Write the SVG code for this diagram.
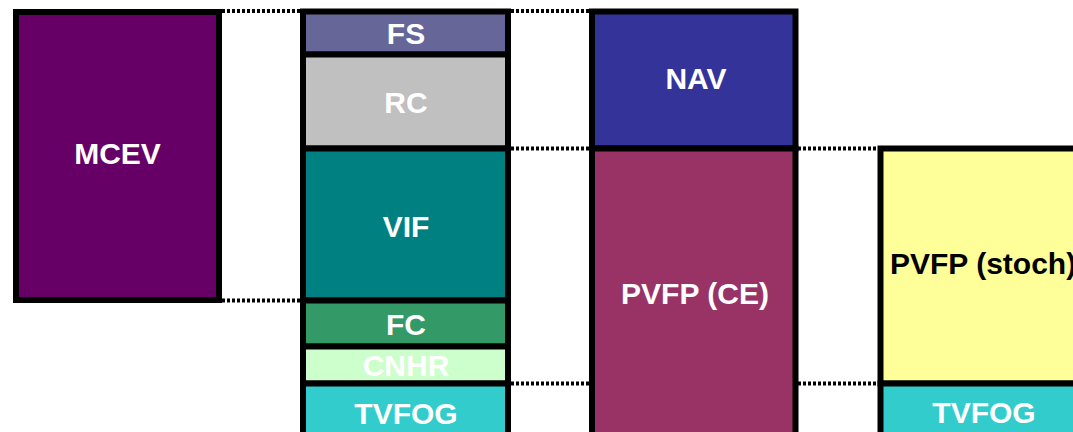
<svg xmlns="http://www.w3.org/2000/svg" width="1073" height="432" viewBox="0 0 1073 432">
<style>
.box{stroke:#000;stroke-width:6}
.lbl{font-family:"Liberation Sans",Arial,sans-serif;font-weight:bold;font-size:30px;fill:#fff;text-anchor:middle}
.dot{stroke:#000;stroke-width:4;stroke-dasharray:3 2;fill:none}
</style>
<rect width="1073" height="432" fill="#fff"/>
<g id="connectors">
<line class="dot" x1="222" y1="11" x2="300" y2="11"/>
<line class="dot" x1="222" y1="300.5" x2="300" y2="300.5"/>
<line class="dot" x1="511" y1="11" x2="589" y2="11"/>
<line class="dot" x1="511" y1="148.5" x2="589" y2="148.5"/>
<line class="dot" x1="511" y1="383.5" x2="589" y2="383.5"/>
<line class="dot" x1="798" y1="148.5" x2="877" y2="148.5"/>
<line class="dot" x1="798" y1="383.5" x2="877" y2="383.5"/>
</g>
<g id="MCEV"><rect class="box" x="16" y="12" width="203" height="288" fill="#660066"/><text class="lbl" x="117.5" y="163.5">MCEV</text></g>
<g id="FS"><rect class="box" x="303" y="11.5" width="205" height="43" fill="#666699"/><text class="lbl" x="406" y="43.5">FS</text></g>
<g id="RC"><rect class="box" x="303" y="54.5" width="205" height="94" fill="#C0C0C0"/><text class="lbl" x="406" y="112.5">RC</text></g>
<g id="VIF"><rect class="box" x="303" y="148.5" width="205" height="152" fill="#008080"/><text class="lbl" x="406" y="236.5">VIF</text></g>
<g id="FC"><rect class="box" x="303" y="300.5" width="205" height="46" fill="#339966"/><text class="lbl" x="406" y="335">FC</text></g>
<g id="CNHR"><rect class="box" x="303" y="346.5" width="205" height="37" fill="#CCFFCC"/><text class="lbl" x="406" y="376">CNHR</text></g>
<g id="TVFOG1"><rect class="box" x="303" y="383.5" width="205" height="60" fill="#33CCCC"/><text class="lbl" x="406" y="424">TVFOG</text></g>
<g id="NAV"><rect class="box" x="592" y="11.5" width="203.5" height="137" fill="#333399"/><text class="lbl" x="696" y="88.5">NAV</text></g>
<g id="PVFPCE"><rect class="box" x="592" y="148.5" width="203.5" height="295" fill="#993366"/><text class="lbl" x="695" y="303.5">PVFP (CE)</text></g>
<g id="PVFPstoch"><rect class="box" x="880.5" y="148.5" width="207" height="235" fill="#FFFF99"/><text class="lbl" x="890" y="274" style="fill:#000;text-anchor:start">PVFP (stoch)</text></g>
<g id="TVFOG2"><rect class="box" x="880.5" y="383.5" width="207" height="60" fill="#33CCCC"/><text class="lbl" x="984" y="423">TVFOG</text></g>
</svg>
